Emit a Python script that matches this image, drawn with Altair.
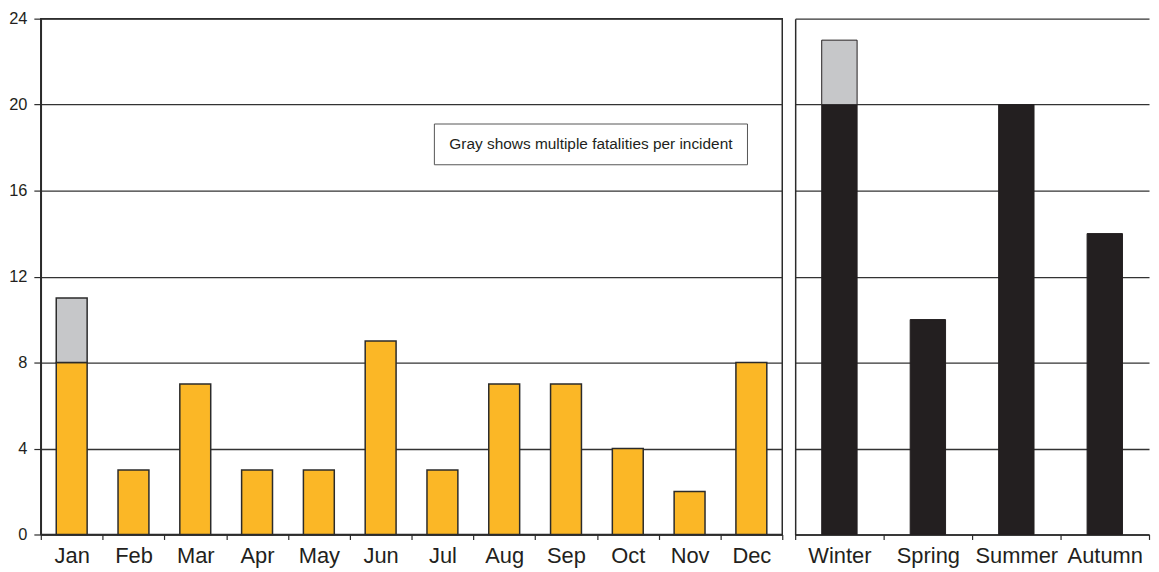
import altair as alt
import pandas as pd

months = ["Jan", "Feb", "Mar", "Apr", "May", "Jun", "Jul", "Aug", "Sep", "Oct", "Nov", "Dec"]
month_single = [8, 3, 7, 3, 3, 9, 3, 7, 7, 4, 2, 8]
month_multi = [3, 0, 0, 0, 0, 0, 0, 0, 0, 0, 0, 0]

seasons = ["Winter", "Spring", "Summer", "Autumn"]
season_single = [20, 10, 20, 14]
season_multi = [3, 0, 0, 0]

y_ticks = [0, 4, 8, 12, 16, 20, 24]
note = "Gray shows multiple fatalities per incident"

ORANGE = "#FBB726"
GRAY = "#C6C7C9"
BLACK = "#231F20"
LINE = "#2b2b2b"
FONT = "Liberation Sans"


def long_rows(cats, single, multi):
    rows = []
    for c, s, g in zip(cats, single, multi):
        rows.append({"cat": c, "kind": "single", "value": s, "ord": 0})
        if g > 0:
            rows.append({"cat": c, "kind": "multi", "value": g, "ord": 1})
    return pd.DataFrame(rows)


dfm = long_rows(months, month_single, month_multi)
dfs = long_rows(seasons, season_single, season_multi)

yscale = alt.Scale(domain=[0, 24], nice=False, zero=True)

x_axis = dict(title=None, labelAngle=0, labelFontSize=22, tickBand="extent",
              tickSize=5, labelPadding=6, grid=False, domainColor=LINE,
              domainWidth=1.5, tickColor=LINE, tickWidth=1.2, labelColor=BLACK)

bars_m = alt.Chart(dfm).mark_bar(
    width=alt.RelativeBandSize(0.5), stroke=LINE, strokeWidth=1.5
).encode(
    x=alt.X("cat:N", sort=months, scale=alt.Scale(paddingInner=0, paddingOuter=0),
            axis=alt.Axis(**x_axis)),
    y=alt.Y("value:Q", stack="zero", scale=yscale,
            axis=alt.Axis(values=y_ticks, title=None, labelFontSize=16.5, tickSize=7,
                          labelPadding=7, grid=True, gridColor="#333333", gridWidth=1.3,
                          domainColor=LINE, domainWidth=1.5, tickColor=LINE,
                          tickWidth=1.2, labelColor=BLACK)),
    color=alt.Color("kind:N", scale=alt.Scale(domain=["single", "multi"],
                                              range=[ORANGE, GRAY]), legend=None),
    order=alt.Order("ord:Q", sort="ascending"),
)

note_df = pd.DataFrame({"t": [note]})
note_box = alt.Chart(note_df).mark_rect(fill="white", stroke="#555555", strokeWidth=1).encode(
    x=alt.value(396), x2=alt.value(711), y=alt.value(106), y2=alt.value(147)
)
note_text = alt.Chart(note_df).mark_text(fontSize=15.5, color=BLACK, font=FONT).encode(
    x=alt.value(553.5), y=alt.value(126.5), text="t:N"
)

left = alt.layer(bars_m, note_box, note_text).properties(
    width=746, height=519,
    view=alt.ViewBackground(stroke=LINE, strokeWidth=1.5),
)

bars_s = alt.Chart(dfs).mark_bar(
    width=alt.RelativeBandSize(0.4), stroke=BLACK, strokeWidth=1
).encode(
    x=alt.X("cat:N", sort=seasons, scale=alt.Scale(paddingInner=0, paddingOuter=0),
            axis=alt.Axis(**x_axis)),
    y=alt.Y("value:Q", stack="zero", scale=yscale,
            axis=alt.Axis(values=y_ticks, title=None, labels=False, ticks=False,
                          grid=True, gridColor="#333333", gridWidth=1.3,
                          domainColor=LINE, domainWidth=1.5)),
    color=alt.Color("kind:N", scale=alt.Scale(domain=["single", "multi"],
                                              range=[BLACK, GRAY]), legend=None),
    order=alt.Order("ord:Q", sort="ascending"),
).properties(
    width=356, height=519,
    view=alt.ViewBackground(stroke="transparent"),
)

chart = alt.hconcat(left, bars_s, spacing=9).resolve_scale(
    x="independent", y="independent", color="independent"
).properties(
    padding={"left": -1, "top": 0, "right": 0, "bottom": 0},
).configure(font=FONT).configure_axis(labelFont=FONT)

chart.save("out.html", embed_options={"renderer": "svg", "actions": False})
